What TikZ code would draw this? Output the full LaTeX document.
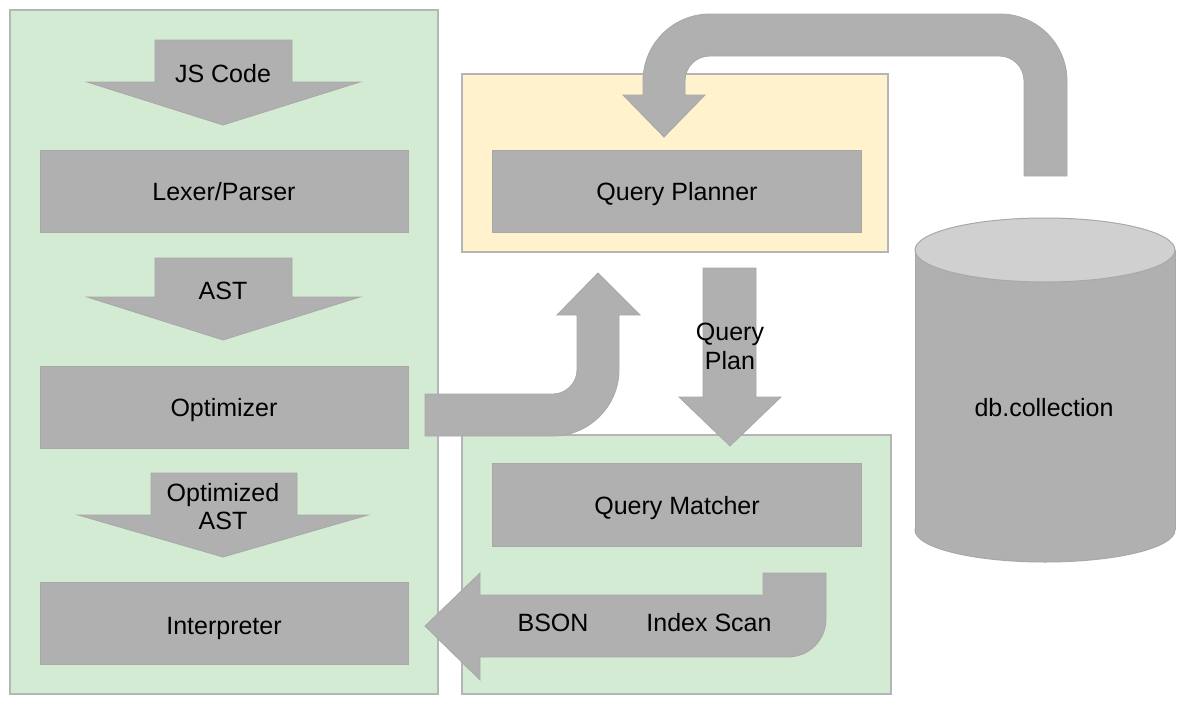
\documentclass[tikz,border=0pt]{standalone}
\usepackage{fontspec}
\setmainfont{Liberation Sans}
\definecolor{pgreen}{HTML}{D4EBD3}
\definecolor{pyellow}{HTML}{FFF2CC}
\definecolor{pborder}{HTML}{B5B5B5}
\definecolor{bgray}{HTML}{B0B0B0}
\definecolor{bedge}{HTML}{A8A8A8}
\definecolor{ctop}{HTML}{D0D0D0}
\begin{document}
\begin{tikzpicture}[x=1pt,y=-1pt,
  panel/.style={draw=pborder,line width=1.5pt},
  boxg/.style={fill=bgray,draw=bedge,line width=0.8pt},
  barrow/.style={fill=bgray,draw=bedge,line width=0.8pt,line join=miter},
  lbl/.style={font=\fontsize{25}{28.5}\selectfont,align=center,inner sep=0pt,anchor=base}]
\useasboundingbox (0,0) rectangle (1187,704);
% panels
\draw[panel,fill=pgreen] (10,10) rectangle (438,694);
\draw[panel,fill=pyellow] (462,74) rectangle (888,252);
\draw[panel,fill=pgreen] (462,435) rectangle (891,694);
% boxes
\draw[boxg] (40,150) rectangle (408,232);
\node[lbl] (lexer) at (224,200) {Lexer/Parser};
\draw[boxg] (40,366) rectangle (408,448);
\node[lbl] (opt) at (224,416) {Optimizer};
\draw[boxg] (40,582) rectangle (408,664);
\node[lbl] (interp) at (224,634) {Interpreter};
\draw[boxg] (492,150) rectangle (861,232);
\node[lbl] (planner) at (677,200) {Query Planner};
\draw[boxg] (492,463) rectangle (861,546);
\node[lbl] (matcher) at (677,514) {Query Matcher};
% cylinder
\draw[fill=bgray,draw=bedge,line width=1pt] (1045,530) ellipse[x radius=130,y radius=32];
\fill[bgray] (915,250) rectangle (1175,530);
\draw[bedge,line width=1pt] (915,250) -- (915,530) (1175,250) -- (1175,530);
\draw[fill=ctop,draw=bedge,line width=1pt] (1045,250) ellipse[x radius=130,y radius=32];
\node[lbl] (db) at (1044,416) {db.collection};
% left block arrows
\draw[barrow] (155,40) -- (292,40) -- (292,82) -- (360,82) -- (223,125) -- (87,82) -- (155,82) -- cycle;
\node[lbl] (js) at (223,82) {JS Code};
\draw[barrow] (155,258) -- (292,258) -- (292,297) -- (360,297) -- (223,340) -- (87,297) -- (155,297) -- cycle;
\node[lbl] (ast) at (223,299) {AST};
\draw[barrow] (151,473) -- (297,473) -- (297,515) -- (368,515) -- (223,557) -- (78,515) -- (151,515) -- cycle;
\node[lbl] (oast) at (223,529.5) {Optimized\\AST};
% query plan arrow
\draw[barrow] (703,268) -- (756,268) -- (756,397) -- (781,397) -- (730,446) -- (679,397) -- (703,397) -- cycle;
\node[lbl] (qplan) at (730,369) {Query\\Plan};
% optimizer -> planner arrow
\draw[barrow] (425,394) -- (553,394) .. controls (566,394) and (577,383) .. (577,370)
  -- (577,315) -- (557,315) -- (598,273) -- (640,315) -- (619,315) -- (619,370)
  .. controls (619,406) and (589,436) .. (553,436) -- (425,436) -- cycle;
% db -> planner arrow
\draw[barrow] (1067,176) -- (1067,81) .. controls (1067,44) and (1037,14) .. (1000,14)
  -- (710,14) .. controls (673,14) and (643,44) .. (643,81)
  -- (643,95) -- (623,95) -- (664,137) -- (705,95) -- (685,95) -- (685,81)
  .. controls (685,67) and (696,56) .. (710,56)
  -- (999,56) .. controls (1013,56) and (1024,67) .. (1024,81) -- (1024,176) -- cycle;
% index scan arrow
\draw[barrow] (425,626) -- (480,573) -- (480,595) -- (763,595) -- (763,573) -- (826,573) -- (826,619)
  .. controls (826,640) and (809,657) .. (788,657) -- (480,657) -- (480,680) -- cycle;
\node[lbl] (bson) at (553,631) {BSON};
\node[lbl] (iscan) at (709,631) {Index Scan};
\end{tikzpicture}
\end{document}
